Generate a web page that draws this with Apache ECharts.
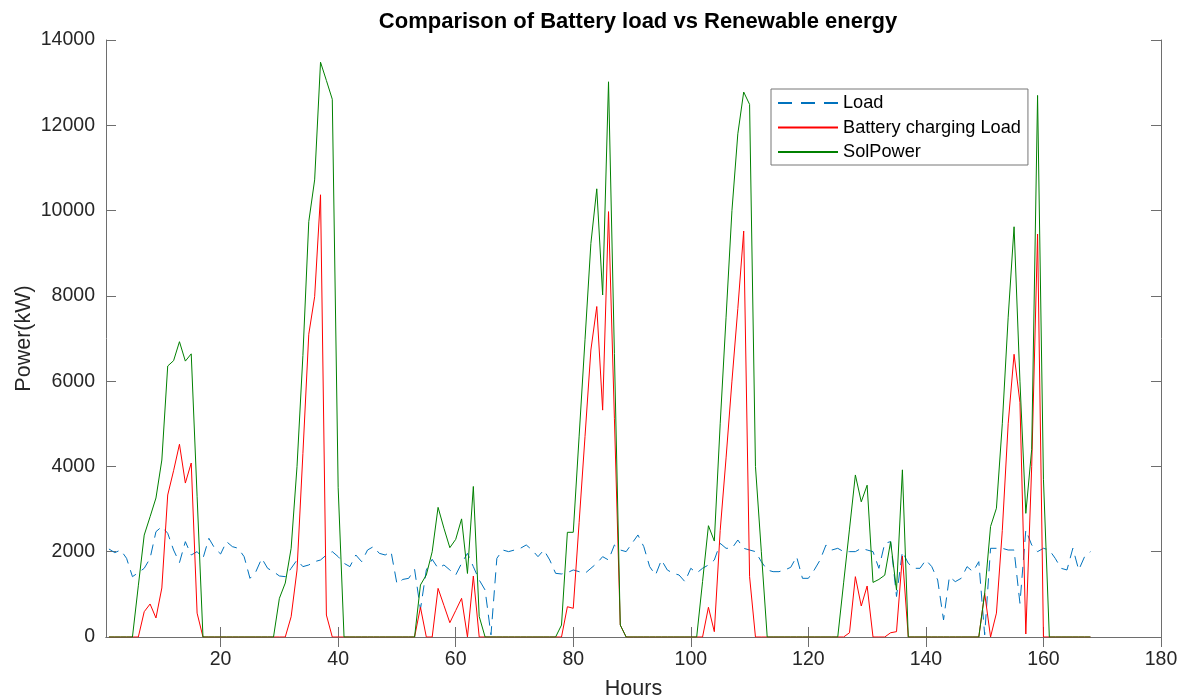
<!DOCTYPE html>
<html>
<head>
<meta charset="utf-8">
<script src="https://cdn.jsdelivr.net/npm/echarts@6/dist/echarts.min.js"></script>
<style>
html,body{margin:0;padding:0;background:#fff}
#chart{width:1187px;height:697px}
</style>
</head>
<body>
<div id="chart"></div>
<script>
// hourly values, hour 1..168
var loadKW = [2064,1978,2040,1845,1415,1509,1611,1845,2470,2588,2432,2040,1744,2236,1923,2002,1845,2314,2080,1947,2236,2119,2080,1884,
  1376,1532,1845,1611,1532,1431,1415,1611,1806,1650,1689,1767,1806,1923,2002,1884,1728,1650,1923,1767,2040,2119,1962,1923,
  2002,1250,1350,1376,1587,650,1572,1822,1611,1689,1572,1454,1728,1962,1650,1337,1102,50,1845,2040,2002,2040,2080,2158,
  2040,1884,2040,1806,1493,1478,1509,1572,1532,1493,1611,1728,1884,1806,2158,2040,2002,2197,2393,2119,1650,1454,1806,1572,
  1493,1454,1298,1611,1500,1611,1689,1806,2197,2080,2080,2275,2080,2040,2002,1767,1572,1532,1532,1572,1634,1884,1376,1376,
  1572,1806,2158,2040,2080,2002,2002,2002,2080,2040,2002,1611,2197,2236,950,2002,1728,1611,1611,1806,1650,1337,400,1415,
  1298,1376,1650,1532,1767,50,2080,2080,2080,2040,2040,790,2510,2158,2002,2080,2040,1845,1611,1572,2080,1572,1884,2002]
var batteryKW = [0,0,0,0,0,0,593,774,446,1150,3330,3900,4520,3610,4080,560,0,0,0,0,0,0,0,0,
  0,0,0,0,0,0,0,475,1570,4300,7100,7980,10370,515,0,0,0,0,0,0,0,0,0,0,
  0,0,0,0,0,697,0,0,1140,740,336,620,907,0,1430,0,0,0,0,0,0,0,0,0,
  0,0,0,0,0,0,710,673,2690,4700,6730,7750,5320,9975,5130,280,0,0,0,0,0,0,0,0,
  0,0,0,0,0,0,697,125,2500,4200,6000,7700,9520,1415,0,0,0,0,0,0,0,0,0,0,
  0,0,0,0,0,0,100,1415,727,1196,0,0,0,100,125,1900,0,0,0,0,0,0,0,0,
  0,0,0,0,0,1025,0,560,2500,5000,6630,5500,70,4000,9450,0,0,0,0,0,0,0,0,0]
var solPowerKW = [0,0,0,0,0,1200,2390,2820,3260,4150,6355,6480,6925,6470,6640,3300,0,0,0,0,0,0,0,0,
  0,0,0,0,0,907,1265,2080,4000,6600,9740,10720,13480,13050,12610,3500,0,0,0,0,0,0,0,0,
  0,0,0,0,0,1220,1455,2000,3040,2550,2095,2290,2770,1490,3530,480,0,0,0,0,0,0,0,0,
  0,0,0,0,0,280,2455,2455,4710,6970,9230,10510,8020,13020,6650,280,0,0,0,0,0,0,0,0,
  0,0,0,0,0,1300,2610,2250,5000,7500,10000,11800,12780,12490,4000,2000,0,0,0,0,0,0,0,0,
  0,0,0,0,0,1270,2530,3800,3170,3560,1280,1350,1450,2235,1100,3920,0,0,0,0,0,0,0,0,
  0,0,0,0,0,1025,2590,3020,5000,7500,9620,6000,2900,4400,12700,3700,0,0,0,0,0,0,0,0]
var xTicks = [20,40,60,80,100,120,140,160,180]
var seriesNames = ["Load","Battery charging Load","SolPower"]

var font = "'Liberation Sans', Arial, sans-serif"
var axisColor = "#6e6e6e"
var txt = "#262626"
function pairs(arr){ return arr.map(function(v,i){ return [i+1,v] }) }

var myChart = echarts.init(document.getElementById("chart"))
myChart.setOption({
  animation:false,
  backgroundColor:"#fff",
  title:{text:"Comparison of Battery load vs Renewable energy",left:633,textAlign:"center",top:6,
    textStyle:{fontFamily:font,fontSize:22,fontWeight:"bold",color:"#000"}},
  legend:{orient:"vertical",left:771,top:89,padding:[5,7,4,6],itemWidth:60,itemHeight:19,itemGap:6.5,
    backgroundColor:"#fff",borderColor:"#777",borderWidth:1,borderRadius:0,
    itemStyle:{opacity:0},
    textStyle:{fontFamily:font,fontSize:18.2,color:"#000"},
    data:[{name:seriesNames[0],lineStyle:{type:[14,9]}},seriesNames[1],seriesNames[2]]},
  grid:{left:106,right:26,top:40,bottom:60,containLabel:false,outerBoundsMode:"none"},
  xAxis:[{type:"value",min:0.5,max:180,name:"Hours",nameLocation:"middle",nameGap:41,nameMoveOverlap:false,
    nameTextStyle:{fontFamily:font,fontSize:21.5,color:txt},
    axisLine:{lineStyle:{color:axisColor}},
    axisTick:{inside:true,length:10,customValues:xTicks,lineStyle:{color:axisColor}},
    axisLabel:{customValues:xTicks,margin:13,fontFamily:font,fontSize:19.5,color:txt},
    splitLine:{show:false}},
   {type:"value",position:"top",min:0.5,max:180,
    axisLine:{lineStyle:{color:axisColor}},
    axisTick:{inside:true,length:10,customValues:xTicks,lineStyle:{color:axisColor}},
    axisLabel:{show:false},splitLine:{show:false}}],
  yAxis:[{type:"value",min:0,max:14000,interval:2000,name:"Power(kW)",nameLocation:"middle",nameGap:71,nameMoveOverlap:false,
    nameTextStyle:{fontFamily:font,fontSize:21.5,color:txt},
    axisLine:{show:true,lineStyle:{color:axisColor}},
    axisTick:{show:true,inside:true,length:10,lineStyle:{color:axisColor}},
    axisLabel:{margin:11,fontFamily:font,fontSize:19.5,color:txt,formatter:function(v){ return String(v) }},
    splitLine:{show:false}},
   {type:"value",position:"right",min:0,max:14000,interval:2000,
    axisLine:{show:true,lineStyle:{color:axisColor}},
    axisTick:{show:true,inside:true,length:10,lineStyle:{color:axisColor}},
    axisLabel:{show:false},splitLine:{show:false}}],
  series:[
    {name:seriesNames[0],type:"line",data:pairs(loadKW),symbol:"none",color:"#0072BD",
      lineStyle:{width:1,type:[11,7],color:"#0072BD"}},
    {name:seriesNames[1],type:"line",data:pairs(batteryKW),symbol:"none",color:"#FF0000",
      lineStyle:{width:1,color:"#FF0000"}},
    {name:seriesNames[2],type:"line",data:pairs(solPowerKW),symbol:"none",color:"#008000",
      lineStyle:{width:1,color:"#008000"}}
  ]
})
</script>
</body>
</html>
